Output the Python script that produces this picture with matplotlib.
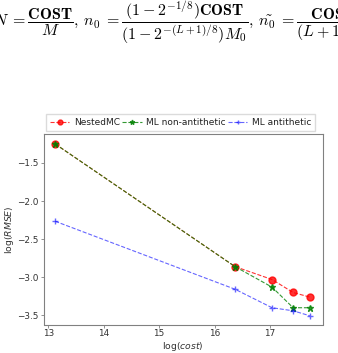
import matplotlib.pyplot as plt

# data
log_cost = [13.12, 16.37, 17.04, 17.42, 17.72]
nested_mc = [-1.25, -2.86, -3.03, -3.20, -3.26]
ml_non_antithetic = [-1.25, -2.86, -3.13, -3.40, -3.40]
ml_antithetic = [-2.265, -3.157, -3.40, -3.44, -3.505]

fig = plt.figure(figsize=(3.38, 3.53), dpi=100)

# equation header (cut off at both sides like the screenshot)
eq = (r"$N\;= \dfrac{\mathbf{COST}}{M},\: n_0\;= "
      r"\dfrac{(1-2^{-1/8})\mathbf{COST}}{(1-2^{-(L+1)/8})M_0},\: "
      r"\tilde{n_0}\;= \dfrac{\mathbf{COST}}{(L+1)M_0}$")
fig.text(-0.021, 0.936, eq, fontsize=11.5, va='center', ha='left',
         math_fontfamily='cm')

ax = fig.add_axes([43.5 / 338, 1 - 324.5 / 353, 279.5 / 338, 190.5 / 353])
ax.plot(log_cost, nested_mc, 'r--o', lw=0.8, ms=5, alpha=0.8, label='NestedMC')
ax.plot(log_cost, ml_non_antithetic, 'g--*', lw=0.8, ms=5, alpha=0.8,
        label='ML non-antithetic')
ax.plot(log_cost, ml_antithetic, 'b--+', lw=0.8, ms=5, alpha=0.6,
        label='ML antithetic')

ax.set_xlim(12.91, 17.96)
ax.set_ylim(-3.62, -1.12)
ax.set_xticks([13, 14, 15, 16, 17])
ax.set_yticks([-1.5, -2.0, -2.5, -3.0, -3.5])
ax.tick_params(labelsize=6.4, length=2, pad=1.5, width=0.6, color='gray',
               labelcolor='#333333')
for s in ax.spines.values():
    s.set_color('gray')
    s.set_linewidth(0.8)
ax.set_xlabel(r'log($cost$)', fontsize=6.7, labelpad=1.5, color='#333333')
ax.set_ylabel(r'log($RMSE$)', fontsize=6.7, labelpad=1, color='#333333')

ax.legend(loc='lower center', bbox_to_anchor=(0.49, 0.99), ncol=3,
          fontsize=6.5, handlelength=2.2, columnspacing=0.2, handletextpad=0.5,
          borderpad=0.45, markerscale=0.7, fancybox=False,
          edgecolor='lightgray', labelcolor='#222222')

fig.savefig('out.png', dpi=100)
